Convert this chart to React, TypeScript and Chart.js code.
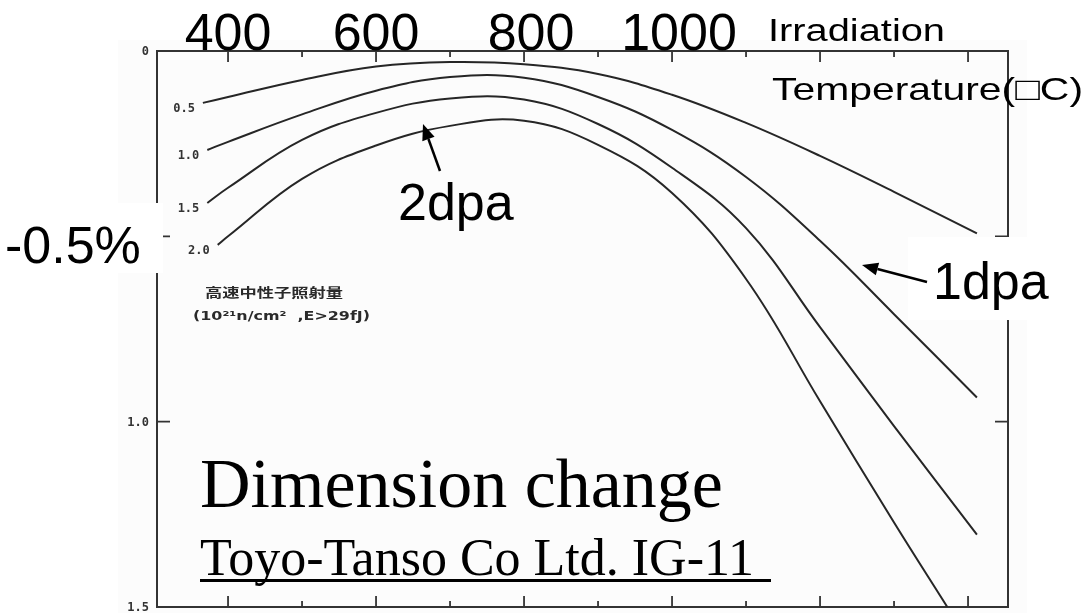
import React, { useEffect, useRef } from "react";
import { Chart, registerables } from "chart.js";

Chart.register(...registerables);

const W = 1088;
const H = 613;

// Irradiation temperature (°C) and dimensional change (%, shrinkage drawn downward)
const fluenceLabels = ["0.5", "1.0", "1.5", "2.0"];

const temp05 = [366, 400, 500, 600, 700, 800, 900, 1000, 1100, 1200, 1300, 1412];
const dim05 = [0.14, 0.124, 0.078, 0.042, 0.03, 0.036, 0.062, 0.118, 0.194, 0.283, 0.38, 0.492];

const temp10 = [372, 400, 500, 600, 700, 800, 900, 1000, 1100, 1200, 1300, 1412];
const dim10 = [0.267, 0.245, 0.171, 0.107, 0.07, 0.072, 0.124, 0.213, 0.34, 0.512, 0.71, 0.935];

const temp15 = [372, 400, 500, 600, 700, 800, 900, 1000, 1100, 1200, 1300, 1412];
const dim15 = [0.41, 0.369, 0.24, 0.167, 0.128, 0.131, 0.197, 0.315, 0.478, 0.745, 1.012, 1.305];

const temp20 = [386, 400, 500, 600, 700, 800, 900, 1000, 1100, 1200, 1300, 1372];
const dim20 = [0.523, 0.5, 0.345, 0.255, 0.202, 0.188, 0.253, 0.383, 0.615, 0.945, 1.272, 1.5];

const tempTicks = [400, 500, 600, 700, 800, 900, 1000, 1100, 1200, 1300, 1400];
const tempLabels = [400, 600, 800, 1000];
const dimTicks = [0.5, 1.0];
const dimLabelValues = [0, 0.5, 1.0, 1.5];
const dimLabels = ["0", "0.5", "1.0", "1.5"];

const SANS = "'Liberation Sans', Arial, sans-serif";
const SERIF = "'Liberation Serif', 'Times New Roman', serif";

function drawText(
  ctx: CanvasRenderingContext2D,
  text: string,
  x: number,
  y: number,
  font: string,
  width?: number
) {
  ctx.font = font;
  const w = ctx.measureText(text).width;
  ctx.save();
  ctx.translate(x, y);
  if (width) ctx.scale(width / w, 1);
  ctx.textAlign = "left";
  ctx.textBaseline = "alphabetic";
  ctx.fillText(text, 0, 0);
  ctx.restore();
}

function drawArrow(ctx: CanvasRenderingContext2D, x1: number, y1: number, x2: number, y2: number) {
  const ang = Math.atan2(y2 - y1, x2 - x1);
  const head = 16;
  const half = 6.5;
  const bx = x2 - head * Math.cos(ang);
  const by = y2 - head * Math.sin(ang);
  ctx.save();
  ctx.strokeStyle = "#000";
  ctx.fillStyle = "#000";
  ctx.lineWidth = 2.5;
  ctx.beginPath();
  ctx.moveTo(x1, y1);
  ctx.lineTo(bx, by);
  ctx.stroke();
  ctx.beginPath();
  ctx.moveTo(x2, y2);
  ctx.lineTo(bx + half * Math.sin(ang), by - half * Math.cos(ang));
  ctx.lineTo(bx - half * Math.sin(ang), by + half * Math.cos(ang));
  ctx.closePath();
  ctx.fill();
  ctx.restore();
}

const overlayPlugin = {
  id: "overlay",
  beforeDraw(chart: any) {
    const ctx = chart.ctx as CanvasRenderingContext2D;
    ctx.save();
    ctx.fillStyle = "#ffffff";
    ctx.fillRect(0, 0, W, H);
    ctx.fillStyle = "#fcfcfc";
    ctx.fillRect(118, 40, 909, 573);
    ctx.restore();
  },
  beforeDatasetsDraw(chart: any) {
    const ctx = chart.ctx as CanvasRenderingContext2D;
    const { left, right, top, bottom } = chart.chartArea;
    const xs = chart.scales.x;
    const ys = chart.scales.y;
    ctx.save();
    ctx.strokeStyle = "#333";
    ctx.lineWidth = 2;
    ctx.strokeRect(left, top, right - left, bottom - top);
    ctx.lineWidth = 1.8;
    tempTicks.forEach((t) => {
      const x = xs.getPixelForValue(t);
      const len = t % 200 === 0 ? 11 : 6;
      ctx.beginPath();
      ctx.moveTo(x, top);
      ctx.lineTo(x, top + len);
      ctx.moveTo(x, bottom);
      ctx.lineTo(x, bottom - len);
      ctx.stroke();
    });
    dimTicks.forEach((v) => {
      const y = ys.getPixelForValue(v);
      ctx.beginPath();
      ctx.moveTo(left, y);
      ctx.lineTo(left + 13, y);
      ctx.moveTo(right, y);
      ctx.lineTo(right - 13, y);
      ctx.stroke();
    });
    // y tick labels (scan)
    ctx.fillStyle = "#333";
    ctx.font = "bold 12px 'DejaVu Sans Mono', monospace";
    ctx.textAlign = "right";
    ctx.textBaseline = "middle";
    dimLabelValues.forEach((v, i) => {
      ctx.fillText(dimLabels[i], left - 8, ys.getPixelForValue(v) + 1);
    });
    // Japanese fluence legend
    ctx.fillStyle = "#2a2a2a";
    drawText(ctx, "高速中性子照射量", 205, 297, "bold 13px 'Noto Sans CJK JP', sans-serif", 138);
    drawText(ctx, "(10²¹n/cm²  ,E>29fJ)", 193, 320, "bold 12px 'DejaVu Sans', sans-serif", 177);
    ctx.restore();
  },
  afterDatasetsDraw(chart: any) {
    const ctx = chart.ctx as CanvasRenderingContext2D;
    ctx.save();
    ctx.fillStyle = "#333";
    ctx.font = "bold 12px 'DejaVu Sans Mono', monospace";
    ctx.textAlign = "right";
    ctx.textBaseline = "middle";
    chart.data.datasets.forEach((ds: any, i: number) => {
      const pt = chart.getDatasetMeta(i).data[0];
      if (pt) ctx.fillText(fluenceLabels[i], pt.x - 8, pt.y + 6);
    });
    ctx.restore();
  },
  afterDraw(chart: any) {
    const ctx = chart.ctx as CanvasRenderingContext2D;
    const xs = chart.scales.x;
    ctx.save();
    // white label boxes
    ctx.fillStyle = "#ffffff";
    ctx.fillRect(0, 203, 163, 70);
    ctx.fillRect(908, 237, 119, 83);

    ctx.fillStyle = "#000";
    // top axis labels
    ctx.font = `52px ${SANS}`;
    ctx.textAlign = "center";
    ctx.textBaseline = "alphabetic";
    tempLabels.forEach((t) => {
      ctx.fillText(String(t), xs.getPixelForValue(t) + (t >= 800 ? 7 : 0), 50);
    });

    drawText(ctx, "Irradiation", 768, 41, `31px ${SANS}`, 177);
    drawText(ctx, "Temperature(\u25A1C)", 772, 100, `32px ${SANS}`, 311);
    drawText(ctx, "-0.5%", 5, 263, `52px ${SANS}`);
    drawText(ctx, "2dpa", 398, 220, `52px ${SANS}`);
    drawText(ctx, "1dpa", 933, 299, `52px ${SANS}`);
    drawArrow(ctx, 440, 171, 423, 124);
    drawArrow(ctx, 927, 282, 862, 265);

    drawText(ctx, "Dimension change", 200, 507, `70px ${SERIF}`);
    drawText(ctx, "Toyo-Tanso Co Ltd. IG-11", 200, 575, `52px ${SERIF}`);
    ctx.fillRect(200, 579, 571, 3);
    ctx.restore();
  },
};

export default function App() {
  const ref = useRef<HTMLCanvasElement>(null);

  useEffect(() => {
    if (!ref.current) return;
    const mk = (xs: number[], ys: number[], label: string) => ({
      label,
      data: xs.map((x, i) => ({ x, y: ys[i] })),
      borderColor: "#262626",
      borderWidth: 2,
      pointRadius: 0,
      fill: false,
      tension: 0.4,
    });
    const chart = new Chart(ref.current, {
      type: "line",
      data: {
        datasets: [
          mk(temp05, dim05, fluenceLabels[0]),
          mk(temp10, dim10, fluenceLabels[1]),
          mk(temp15, dim15, fluenceLabels[2]),
          mk(temp20, dim20, fluenceLabels[3]),
        ],
      },
      options: {
        responsive: false,
        animation: false,
        devicePixelRatio: 1,
        layout: { padding: { left: 157, top: 51, right: 80, bottom: 6 } },
        plugins: { legend: { display: false }, tooltip: { enabled: false }, title: { display: false } },
        scales: {
          x: { type: "linear", display: false, min: 304, max: 1454 },
          y: { type: "linear", display: false, min: 0, max: 1.5, reverse: true },
        },
      },
      plugins: [overlayPlugin],
    });
    return () => chart.destroy();
  }, []);

  return (
    <div style={{ position: "fixed", left: 0, top: 0, width: W, height: H, background: "#fff" }}>
      <canvas ref={ref} width={W} height={H} style={{ display: "block", width: W, height: H }} />
    </div>
  );
}
